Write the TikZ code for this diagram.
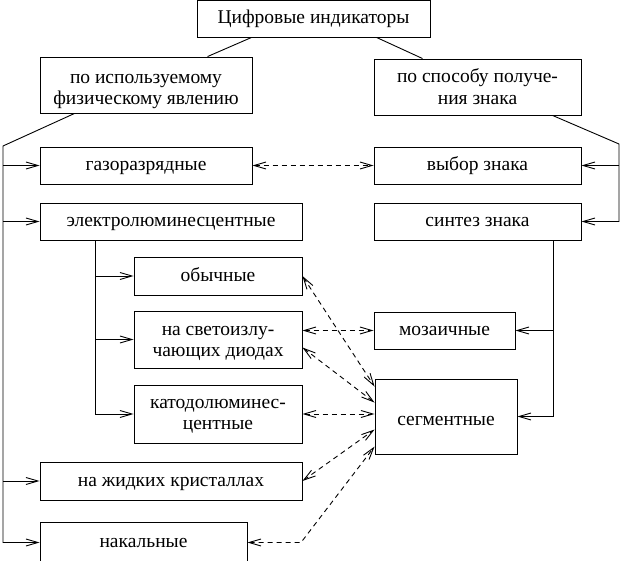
\documentclass[tikz,border=0pt]{standalone}
\usepackage{fontspec}
\setmainfont{Liberation Serif}
\usetikzlibrary{arrows.meta}

\begin{document}
\begin{tikzpicture}[x=1pt,y=-1pt,
    box/.style={draw,line width=0.9pt,inner sep=0pt,align=center,
      font=\fontsize{19.5}{21.5}\selectfont,text height=14pt,text depth=3pt},
    twoline/.style={text height=35pt,text depth=0pt},
    link/.style={line width=0.9pt,-{Straight Barb[length=12pt,width=7pt]}},
    dual/.style={line width=0.9pt,dash pattern=on 5pt off 4pt,
      {Straight Barb[length=12pt,width=7pt]}-{Straight Barb[length=12pt,width=7pt]}}]
  \useasboundingbox (0,0) rectangle (622,561);

  %% boxes
  \node[box,minimum width=233pt,minimum height=37pt] (top) at (313.5,18.5) {Цифровые индикаторы};
  \node[box,twoline,text height=40pt,minimum width=212pt,minimum height=56pt] (phys) at (146,85) {по используемому\\физическому явлению};
  \node[box,twoline,minimum width=207pt,minimum height=56pt] (sign) at (477.5,87) {по способу получе-\\ния знака};
  \node[box,minimum width=212pt,minimum height=37pt] (gas) at (146,165.5) {газоразрядные};
  \node[box,minimum width=207pt,minimum height=37pt] (choice) at (477.5,165.5) {выбор знака};
  \node[box,minimum width=262pt,minimum height=37pt] (electro) at (171,221.5) {электролюминесцентные};
  \node[box,minimum width=207pt,minimum height=37pt] (synth) at (477.5,221.5) {синтез знака};
  \node[box,minimum width=168pt,minimum height=38pt] (usual) at (218,276) {обычные};
  \node[box,twoline,minimum width=168pt,minimum height=57pt] (led) at (218,339.5) {на светоизлу-\\чающих диодах};
  \node[box,minimum width=141pt,minimum height=37pt] (mosaic) at (444.5,330.5) {мозаичные};
  \node[box,twoline,text height=32pt,minimum width=168pt,minimum height=58pt] (cathode) at (218,414) {катодолюминес-\\центные};
  \node[box,text height=18pt,text depth=0pt,minimum width=142pt,minimum height=75pt] (segment) at (446,416.5) {сегментные};
  \node[box,minimum width=262pt,minimum height=38pt] (lcd) at (171,481) {на жидких кристаллах};
  \node[box,minimum width=207pt,minimum height=40pt] (glow) at (143.5,542.5) {накальные};

  %% upper level
  \draw[line width=0.9pt] ([xshift=55pt]top.south west) -- ([xshift=168pt]phys.north west);
  \draw[line width=0.9pt] ([xshift=180pt]top.south west) -- ([xshift=49pt]sign.north west);

  %% left rail
  \coordinate (lrail) at (3,146);
  \draw[link] ([xshift=35pt]phys.south west) -- (lrail) |- (glow.west);
  \draw[link] (lrail |- gas.west) -- (gas.west);
  \draw[link] (lrail |- electro.west) -- (electro.west);
  \draw[link] (lrail |- lcd.west) -- (lcd.west);

  %% electroluminescent branches
  \coordinate (erail) at ([xshift=56pt]electro.south west);
  \draw[link] (erail) |- (cathode.west);
  \draw[link] (erail |- usual.west) -- (usual.west);
  \draw[link] (erail |- led.west) -- (led.west);

  %% right rail
  \coordinate (rrail) at (619,144);
  \draw[link] ([xshift=179pt]sign.south west) -- (rrail) |- (synth.east);
  \draw[link] (rrail |- choice.east) -- (choice.east);
  \coordinate (srail) at ([xshift=180pt]synth.south west);
  \draw[link] (srail) |- (segment.east);
  \draw[link] (srail |- mosaic.east) -- (mosaic.east);

  %% dashed links
  \draw[dual] (gas.east) -- (choice.west);
  \draw[dual] (led.east |- mosaic.west) -- (mosaic.west);
  \draw[dual] (usual.east) -- ([yshift=-8pt]segment.north west);
  \draw[dual] ([yshift=-8pt]led.east) -- ([yshift=-24pt]segment.north west);
  \draw[dual] (cathode.east) -- (cathode.east -| segment.west);
  \draw[dual] (lcd.east) -- ([yshift=-51pt]segment.north west);
  \coordinate (bend) at (301,542.5);
  \draw[dual] (glow.east) -- (bend) -- ([yshift=-68pt]segment.north west);
\end{tikzpicture}
\end{document}
